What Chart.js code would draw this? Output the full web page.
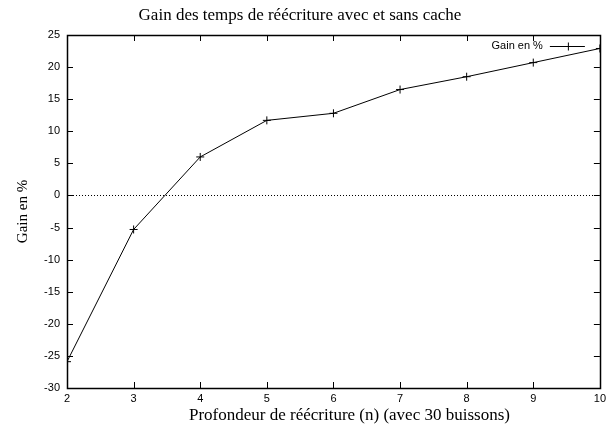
<!DOCTYPE html>
<html>
<head>
<meta charset="utf-8">
<script src="https://cdn.jsdelivr.net/npm/chart.js@4"></script>
<style>
  html, body { margin: 0; padding: 0; background: #fff; }
  #wrap { width: 610px; height: 424px; }
</style>
</head>
<body>
<div id="wrap"><canvas id="graphe" width="610" height="424"></canvas></div>
<script>
// données
const profondeurs = [2, 3, 4, 5, 6, 7, 8, 9, 10];
const gains = [-25.9, -5.3, 6.0, 11.7, 12.8, 16.5, 18.5, 20.7, 22.9];
const nomSerie = "Gain en %";
const titre = "Gain des temps de réécriture avec et sans cache";
const titreX = "Profondeur de réécriture (n) (avec 30 buissons)";
const titreY = "Gain en %";

const sans = "'Liberation Sans', Arial, sans-serif";
const serif = "'Liberation Serif', 'Times New Roman', serif";

// cadre, graduations vers l'intérieur, ligne du zéro, légende et titre X façon gnuplot
const cadreGnuplot = {
  id: "cadreGnuplot",
  afterDatasetsDraw(chart) {
    const { ctx, chartArea: a, scales } = chart;
    const lg = 6;
    ctx.save();
    ctx.strokeStyle = "#000";
    ctx.lineWidth = 1;

    // ligne pointillée du zéro
    const y0 = Math.round(scales.y.getPixelForValue(0)) + 0.5;
    ctx.setLineDash([1, 2]);
    ctx.beginPath();
    ctx.moveTo(a.left, y0);
    ctx.lineTo(a.right, y0);
    ctx.stroke();
    ctx.setLineDash([]);

    ctx.beginPath();
    scales.x.ticks.forEach(t => {
      const x = Math.round(scales.x.getPixelForValue(t.value)) + 0.5;
      ctx.moveTo(x, a.bottom); ctx.lineTo(x, a.bottom - lg);
      ctx.moveTo(x, a.top); ctx.lineTo(x, a.top + lg);
    });
    scales.y.ticks.forEach(t => {
      const y = Math.round(scales.y.getPixelForValue(t.value)) + 0.5;
      ctx.moveTo(a.left, y); ctx.lineTo(a.left + lg, y);
      ctx.moveTo(a.right, y); ctx.lineTo(a.right - lg, y);
    });
    ctx.stroke();

    ctx.lineWidth = 1.5;
    ctx.strokeRect(Math.round(a.left) + 0.5, Math.round(a.top) + 0.5,
      Math.round(a.right - a.left), Math.round(a.bottom - a.top));

    // légende
    const ly = a.top + 11;
    ctx.lineWidth = 1;
    ctx.font = "11px " + sans;
    ctx.fillStyle = "#000";
    ctx.textAlign = "right";
    ctx.textBaseline = "middle";
    ctx.fillText(chart.data.datasets[0].label, a.right - 57, ly);
    ctx.beginPath();
    ctx.moveTo(a.right - 50, ly + 0.5);
    ctx.lineTo(a.right - 15, ly + 0.5);
    const cx = a.right - 32;
    ctx.moveTo(cx + 0.5, ly - 3.5);
    ctx.lineTo(cx + 0.5, ly + 4.5);
    ctx.stroke();

    // titre de l'axe X (décalé à droite comme dans l'original)
    ctx.font = "17px " + serif;
    ctx.textAlign = "center";
    ctx.textBaseline = "alphabetic";
    ctx.fillText(titreX, (a.left + a.right) / 2 + 16, 420);
    ctx.restore();
  }
};

new Chart(document.getElementById("graphe"), {
  type: "line",
  data: {
    datasets: [{
      label: nomSerie,
      data: profondeurs.map((p, i) => ({ x: p, y: gains[i] })),
      borderColor: "#000",
      borderWidth: 1,
      pointStyle: "cross",
      pointRadius: 4,
      pointBorderColor: "#000",
      pointBorderWidth: 1,
      tension: 0,
      fill: false
    }]
  },
  options: {
    responsive: false,
    animation: false,
    layout: { padding: { left: 0, right: 10, top: 0, bottom: 0 } },
    plugins: {
      legend: { display: false },
      tooltip: { enabled: false },
      title: {
        display: true,
        text: titre,
        color: "#000",
        font: { family: serif, size: 17, weight: "normal" },
        padding: { top: 5, bottom: 9.6 }
      }
    },
    scales: {
      x: {
        type: "linear",
        min: 2,
        max: 10,
        ticks: { stepSize: 1, color: "#000", padding: 4, font: { family: sans, size: 11 } },
        grid: { drawOnChartArea: false, drawTicks: false },
        border: { display: false },
        afterFit(s) { s.height = 36; }
      },
      y: {
        min: -30,
        max: 25,
        ticks: { stepSize: 5, color: "#000", padding: 7, font: { family: sans, size: 11 } },
        grid: { drawOnChartArea: false, drawTicks: false },
        border: { display: false },
        title: {
          display: true,
          text: titreY,
          color: "#000",
          font: { family: serif, size: 15 },
          padding: { top: 14, bottom: 0 }
        },
        afterFit(s) { s.width = 67; }
      }
    }
  },
  plugins: [cadreGnuplot]
});
</script>
</body>
</html>
